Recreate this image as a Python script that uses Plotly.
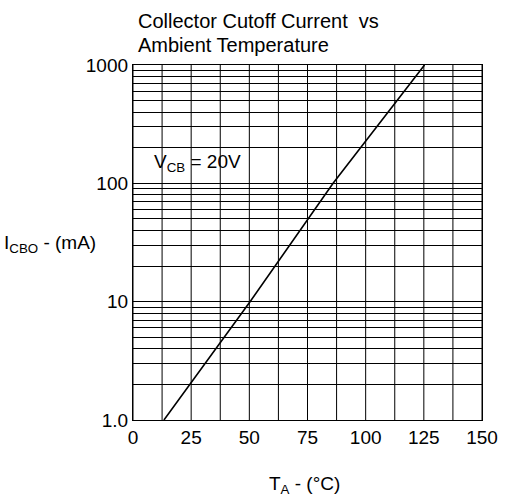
import plotly.graph_objects as go

# Data
temp_c = [13.3, 50.3, 86.0, 125.3]
icbo_ma = [1.0, 10.0, 100.0, 1000.0]

x_ticks = [0, 25, 50, 75, 100, 125, 150]
x_grid = [0, 12.5, 25, 37.5, 50, 62.5, 75, 87.5, 100, 112.5, 125, 137.5, 150]
y_decades = [1, 10, 100, 1000]
y_decade_labels = ["1.0", "10", "100", "1000"]

y_vals = []
y_text = []
for d in [1, 10, 100]:
    for m in range(1, 10):
        y_vals.append(d * m)
        y_text.append(y_decade_labels[y_decades.index(d)] if m == 1 else "")
y_vals.append(1000)
y_text.append("1000")

FONT = "Arial, Liberation Sans, sans-serif"

fig = go.Figure()
fig.add_trace(go.Scatter(x=temp_c, y=icbo_ma, mode="lines",
                         line=dict(color="black", width=1.6), showlegend=False,
                         hoverinfo="skip"))

fig.update_layout(
    width=510, height=497,
    margin=dict(l=133, r=22, t=65, b=77),
    paper_bgcolor="white", plot_bgcolor="white",
    font=dict(family=FONT, size=19, color="black"),
    showlegend=False,
)

fig.update_xaxes(
    range=[0, 150], tickmode="array", tickvals=x_ticks,
    ticktext=[str(v) for v in x_ticks],
    showgrid=False, zeroline=False,
    showline=True, linecolor="black", linewidth=1.3, mirror=True,
    ticks="", tickfont=dict(size=19, family=FONT),
)
fig.update_yaxes(
    type="log", range=[0, 3], tickmode="array", tickvals=y_vals, ticktext=y_text,
    showgrid=True, gridcolor="black", gridwidth=1, zeroline=False,
    showline=True, linecolor="black", linewidth=1.3, mirror=True,
    ticks="", tickfont=dict(size=19, family=FONT), ticklabelstandoff=0,
)

# vertical gridlines at half-steps of 12.5
for xv in x_grid:
    fig.add_vline(x=xv, line=dict(color="black", width=1), layer="below")

annotations = [
    dict(text="Collector Cutoff Current  vs", xref="paper", yref="paper",
         x=0.01, y=1.125, xanchor="left", yanchor="middle", showarrow=False,
         font=dict(size=20, family=FONT)),
    dict(text="Ambient Temperature", xref="paper", yref="paper",
         x=0.01, y=1.057, xanchor="left", yanchor="middle", showarrow=False,
         font=dict(size=20, family=FONT)),
    dict(text="V<sub>CB</sub> = 20V", xref="x", yref="y",
         x=8.3, y=2.174, xanchor="left", yanchor="middle", showarrow=False,
         font=dict(size=19, family=FONT), bgcolor="rgba(0,0,0,0)"),
    dict(text="I<sub>CBO</sub> - (mA)", xref="paper", yref="paper",
         x=-0.375, y=0.495, xanchor="left", yanchor="middle", showarrow=False,
         font=dict(size=19, family=FONT)),
    dict(text="T<sub>A</sub> - (°C)", xref="paper", yref="paper",
         x=0.49, y=-0.183, xanchor="center", yanchor="middle", showarrow=False,
         font=dict(size=19, family=FONT)),
]
fig.update_layout(annotations=annotations)

fig.write_html("out.html", config={"displayModeBar": False},
               post_script="document.body.style.margin='0';")
